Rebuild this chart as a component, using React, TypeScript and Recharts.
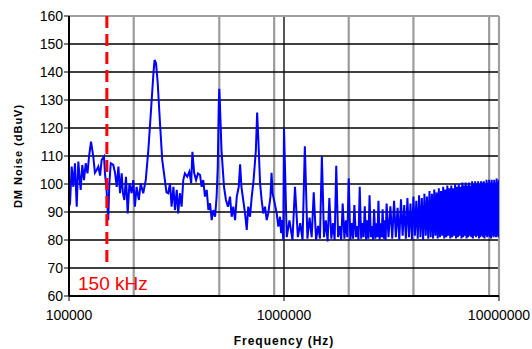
import { LineChart, Line, XAxis, YAxis, CartesianGrid, ReferenceLine } from 'recharts';

// frequency in kHz, noise in dBuV
const lowBand: [number, number][] = [
  [100, 92], [101.1, 93], [102.9, 106.2], [104.7, 99], [106.6, 107.4], [108.6, 91.9],
  [110.5, 108], [113.3, 97.9], [115.3, 106.8], [117.4, 101.4], [119.6, 107.4], [121.9, 103.8],
  [124, 110], [126.6, 115.1], [129.7, 109.8], [132, 104], [134.5, 105], [136.9, 106.2],
  [139.5, 103], [141.9, 108.6], [145.5, 109.8], [147, 103.8], [149.5, 98], [152.2, 87.1],
  [154, 100], [156.4, 107.4], [160.7, 106.8], [163.9, 103.8], [166.7, 99], [169.8, 106.2],
  [172.7, 96.7], [175.8, 103.8], [178, 97], [180.9, 94.3], [184.1, 102.6], [187.5, 89.5],
  [191, 100.2], [195.6, 96.7], [199, 101.4], [202.6, 91.9], [206.3, 99], [211.3, 94.3],
  [215.5, 100.2], [221.4, 96.7], [227.5, 101.4], [233.9, 112.1], [241.3, 127.6], [247, 139.5],
  [250, 144.3], [254, 143.1], [258.6, 136], [265, 121.7], [271.4, 108.6], [279.3, 101.4],
  [284, 97], [289.4, 96.7], [295, 100.2],
];

const midLowBand: [number, number][] = [
  [300, 91.9], [306, 99], [311, 90.7], [317, 97.9], [322, 89.5], [328, 96.7], [334, 91.9],
  [340, 101.4], [346, 103.8], [355, 102.6], [363, 104.4], [370, 100.2], [375, 111.5], [382, 104],
  [390, 101.4], [398, 103.8], [407, 103.2], [414, 99], [421, 101.4], [429, 95.5], [437, 97.9],
  [445, 90.7], [453, 93.1], [461, 87.1], [469, 90.7], [478, 88.3], [486, 95.5], [492, 106.2],
  [497, 127.6], [500, 134], [504, 127.6], [512, 112.1], [526, 99], [537, 94.3], [549, 91.9],
  [561, 95.5], [571, 88.3], [581, 91.9], [592, 87.1], [603, 95.5], [616, 99], [625, 107],
  [634, 99], [646, 94.3], [659, 89.5], [671, 83.6], [682, 91.9], [695, 88.3], [708, 95.5],
  [722, 101.4], [740, 112.1], [750, 125.5], [760, 115.7], [774, 100.2], [787, 94.3], [801, 89.5],
  [816, 91.9], [831, 87.1], [845, 89.5], [865, 95.5], [875, 104], [885, 96.7], [925, 89.5],
  [941, 84.8], [958, 88.3], [970, 82.4], [980, 87.1], [992, 80],
];

const midBand: [number, number][] = [
  [1000, 120], [1030, 81], [1060, 87], [1095, 80], [1125, 99], [1160, 81], [1190, 86], [1220, 80],
  [1250, 113.5], [1285, 80.5], [1315, 88], [1345, 81], [1375, 97], [1410, 80], [1440, 85], [1470, 80.5],
  [1500, 110], [1535, 81], [1565, 87], [1595, 79.5], [1625, 95], [1660, 80.5], [1690, 86], [1720, 80],
  [1750, 106.5], [1785, 81], [1815, 85], [1845, 80], [1875, 93], [1910, 80.5], [1940, 87], [1970, 81],
  [2000, 102], [2035, 80], [2065, 86], [2095, 80.5], [2125, 92.5], [2160, 81], [2190, 85], [2220, 80],
  [2250, 99], [2285, 80.5], [2315, 86], [2345, 81], [2375, 92], [2410, 80], [2440, 87], [2470, 80.5],
  [2500, 96], [2535, 81], [2565, 85], [2595, 80], [2625, 91], [2660, 80.5], [2690, 86], [2720, 81],
  [2750, 94], [2785, 80], [2815, 86], [2845, 81], [2875, 91], [2910, 80.5], [2940, 87], [2970, 80],
];

const highBand: [number, number][] = [
  [3000, 93], [3062.5, 81], [3125, 92], [3187.5, 80.5], [3250, 94], [3312.5, 81], [3375, 91.5], [3437.5, 80],
  [3500, 94.5], [3562.5, 81.5], [3625, 92.5], [3687.5, 80.5], [3750, 95], [3812.5, 81], [3875, 93], [3937.5, 80],
  [4000, 95.5], [4062.5, 81.5], [4125, 94], [4187.5, 80.5], [4250, 96], [4312.5, 81], [4375, 95], [4437.5, 80],
  [4500, 96.5], [4562.5, 81.5], [4625, 95.5], [4687.5, 80.5], [4750, 97.5], [4812.5, 81], [4875, 96.5], [4937.5, 80.5],
  [5000, 98], [5062.5, 81.5], [5125, 97], [5187.5, 80.5], [5250, 98.5], [5312.5, 81], [5375, 97.5], [5437.5, 81.5],
  [5500, 99], [5562.5, 80.5], [5625, 98], [5687.5, 81], [5750, 99.5], [5812.5, 81.5], [5875, 98.5], [5937.5, 80.5],
  [6000, 99.5], [6062.5, 81], [6125, 98.5], [6187.5, 81.5], [6250, 100], [6312.5, 80.5], [6375, 99], [6437.5, 81],
  [6500, 100], [6562.5, 81.5], [6625, 99], [6687.5, 80.5], [6750, 100.5], [6812.5, 81], [6875, 99.5], [6937.5, 81.5],
  [7000, 100.5], [7062.5, 80.5], [7125, 99.5], [7187.5, 81], [7250, 100.5], [7312.5, 81.5], [7375, 99.5], [7437.5, 81],
  [7500, 101], [7562.5, 80.5], [7625, 100], [7687.5, 81.5], [7750, 101], [7812.5, 81], [7875, 100], [7937.5, 81.5],
  [8000, 101], [8062.5, 80.5], [8125, 100], [8187.5, 81], [8250, 101], [8312.5, 81.5], [8375, 100.5], [8437.5, 81],
  [8500, 101], [8562.5, 80.5], [8625, 100], [8687.5, 81.5], [8750, 101.5], [8812.5, 81], [8875, 100.5], [8937.5, 81.5],
  [9000, 101.5], [9062.5, 81], [9125, 100.5], [9187.5, 80.5], [9250, 101.5], [9312.5, 81.5], [9375, 100.5], [9437.5, 81],
  [9500, 101.5], [9562.5, 81.5], [9625, 100.5], [9687.5, 81], [9750, 102], [9812.5, 81.5], [9875, 101], [9937.5, 81],
  [10000, 101.5],
];

const xTicks = [100000, 1000000, 10000000];
const yTicks = [60, 70, 80, 90, 100, 110, 120, 130, 140, 150, 160];
const minorX = [
  200000, 300000, 400000, 500000, 600000, 700000, 800000, 900000,
  2000000, 3000000, 4000000, 5000000, 6000000, 7000000, 8000000, 9000000,
];
const markerFreq = 150000;

const data = [...lowBand, ...midLowBand, ...midBand, ...highBand].map(([k, v]) => ({
  freq: k * 1000,
  noise: v,
}));

const font = 'Liberation Sans, Arial, sans-serif';

export default function App() {
  return (
    <div style={{ position: 'absolute', left: 0, top: 0, width: 532, height: 349, background: '#fff' }}>
      <LineChart
        width={532}
        height={349}
        data={data}
        margin={{ top: 16, right: 33, left: 0, bottom: 0 }}
        style={{ fontFamily: font }}
      >
        <CartesianGrid horizontal={false} verticalValues={minorX} stroke="#9c9c9c" strokeWidth={2.2} />
        <CartesianGrid vertical={false} stroke="#000" strokeWidth={1.4} />
        <CartesianGrid horizontal={false} verticalValues={[1000000]} stroke="#111" strokeWidth={1.4} />
        <XAxis
          dataKey="freq"
          type="number"
          scale="log"
          domain={[100000, 10000000]}
          ticks={xTicks}
          allowDataOverflow
          height={53}
          tickSize={5}
          tickMargin={9}
          axisLine={{ stroke: '#000', strokeWidth: 2 }}
          tickLine={{ stroke: '#000' }}
          tick={{ fill: '#000', fontSize: 14, fontFamily: font }}
          label={{
            value: 'Frequency (Hz)',
            position: 'insideBottom',
            offset: 4,
            style: { fontSize: 12, fontWeight: 'bold', fill: '#000', letterSpacing: 1, fontFamily: font },
          }}
        />
        <YAxis
          type="number"
          domain={[60, 160]}
          ticks={yTicks}
          width={69}
          tickSize={5}
          tickMargin={1}
          axisLine={{ stroke: '#000', strokeWidth: 2 }}
          tickLine={{ stroke: '#000' }}
          tick={{ fill: '#000', fontSize: 14, fontFamily: font }}
          label={{
            value: 'DM Noise (dBuV)',
            angle: -90,
            position: 'insideLeft',
            offset: 18,
            style: { textAnchor: 'middle', fontSize: 11, fontWeight: 'bold', fill: '#000', letterSpacing: 1, fontFamily: font },
          }}
        />
        <ReferenceLine y={160} stroke="#a0a0a0" strokeWidth={2.2} />
        <ReferenceLine x={10000000} stroke="#a0a0a0" strokeWidth={2.2} />
        <Line
          type="linear"
          dataKey="noise"
          stroke="#0000ff"
          strokeWidth={2}
          dot={false}
          isAnimationActive={false}
        />
        <ReferenceLine
          segment={[{ x: markerFreq, y: 160 }, { x: markerFreq, y: 70 }]}
          stroke="#ff0000"
          strokeWidth={3}
          strokeDasharray="12 6"
          label={{
            content: () => (
              <text x={78} y={290} fill="#ff0000" fontSize={19} fontFamily={font}>
                150 kHz
              </text>
            ),
          }}
        />
      </LineChart>
    </div>
  );
}
